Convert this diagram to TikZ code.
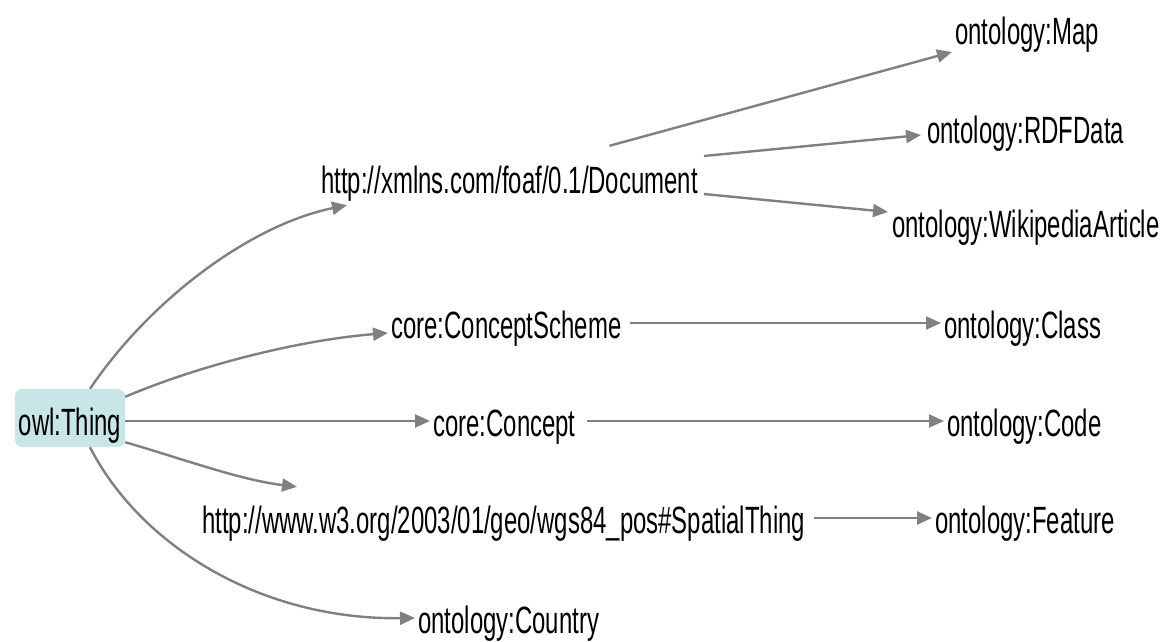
\documentclass[tikz,border=0pt]{standalone}
\usepackage{fontspec}
\setmainfont{Liberation Sans}[FakeStretch=0.63]
\usetikzlibrary{arrows.meta,calc}
\definecolor{edgegray}{RGB}{128,128,128}
\definecolor{thingfill}{RGB}{200,230,231}
\begin{document}
\begin{tikzpicture}[x=1pt,y=-1pt,
  lbl/.style={font=\fontsize{38}{40}\selectfont, inner xsep=3pt, inner ysep=0pt,
              text height=30pt, text depth=0pt, anchor=base west},
  rootbox/.style={fill=thingfill, rounded corners=7pt, minimum width=110pt,
              inner xsep=3pt, inner ysep=0pt, text height=46pt, text depth=12pt,
              font=\fontsize{38}{40}\selectfont},
  link/.style={draw=edgegray, line width=2.4pt, -{Triangle[length=15pt,width=13pt]}}]
\useasboundingbox (0,0) rectangle (1162,642);

% nodes
\node[rootbox] (thing) at (70,418) {owl:Thing};
\node[lbl] (doc) at (318,193) {http://xmlns.com/foaf/0.1/Document};
\node[lbl] (map) at (952,45) {ontology:Map};
\node[lbl] (rdf) at (924,143) {ontology:RDFData};
\node[lbl] (wiki) at (889,237) {ontology:WikipediaArticle};
\node[lbl] (cs) at (388,338) {core:ConceptScheme};
\node[lbl] (class) at (941,338) {ontology:Class};
\node[lbl] (concept) at (430,436) {core:Concept};
\node[lbl] (code) at (944,436) {ontology:Code};
\node[lbl] (spatial) at (199,533) {http://www.w3.org/2003/01/geo/wgs84\_pos\#SpatialThing};
\node[lbl] (feature) at (932,533) {ontology:Feature};
\node[lbl] (country) at (415,633) {ontology:Country};

% edges from owl:Thing
\draw[link] ($(thing.north)+(20,0)$) .. controls (150,300) and (250,225) .. ($(doc.south west)+(29,12)$);
\draw[link] ($(thing.north east)+(0,8)$) .. controls (200,365) and (300,340) .. ($(cs.west)+(0,10)$);
\draw[link] (thing.east |- concept.west) -- (concept.west);
\draw[link] ($(thing.south east)+(0,-5)$) .. controls (180,458) and (240,480) .. ($(spatial.north west)+(98,-16)$);
\draw[link] ($(thing.south)+(20,0)$) .. controls (140,545) and (260,620) .. (country.west);

% edges from Document
\draw[link] ($(doc.north)+(100,-17)$) -- ($(map.west)+(0,22)$);
\draw[link] ($(doc.east)+(3,-22)$) -- ($(rdf.west)+(-3,7)$);
\draw[link] ($(doc.east)+(3,16)$) -- ($(wiki.west)+(-1,-10)$);

% horizontal edges
\draw[link, shorten <=5pt] (cs.east) -- (class.west);
\draw[link, shorten <=8pt] (concept.east) -- (code.west);
\draw[link, shorten <=6pt] (spatial.east) -- (feature.west);
\end{tikzpicture}
\end{document}
